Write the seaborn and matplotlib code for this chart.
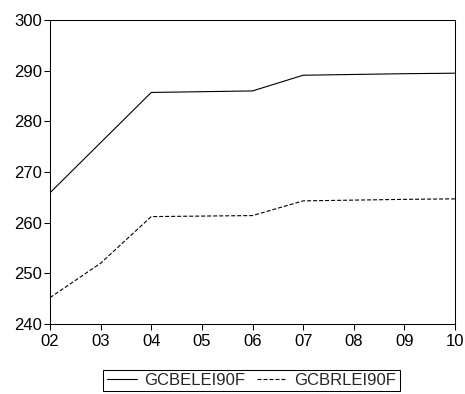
import matplotlib
matplotlib.use("Agg")
import matplotlib.pyplot as plt
import pandas as pd
import seaborn as sns

# Series values by year
years = ["02", "03", "04", "05", "06", "07", "08", "09", "10"]
gcbelei90f = [265.9, 275.8, 285.7, 285.85, 286.0, 289.1, 289.25, 289.4, 289.5]
gcbrlei90f = [245.2, 252.0, 261.2, 261.3, 261.4, 264.3, 264.45, 264.6, 264.7]
series_names = ["GCBELEI90F", "GCBRLEI90F"]
y_ticks = [240, 250, 260, 270, 280, 290, 300]

sns.set_theme(style="ticks")
plt.rcParams["font.family"] = ["Liberation Sans", "DejaVu Sans"]
plt.rcParams["axes.linewidth"] = 0.75
plt.rcParams["axes.edgecolor"] = "black"
plt.rcParams["xtick.color"] = "black"
plt.rcParams["ytick.color"] = "black"

pos = list(range(len(years)))
df = pd.DataFrame({
    "pos": pos * 2,
    "value": gcbelei90f + gcbrlei90f,
    "series": [series_names[0]] * len(years) + [series_names[1]] * len(years),
})

fig = plt.figure(figsize=(4.65, 3.94), dpi=100)
ax = fig.add_axes([50 / 465, 70 / 394, 405 / 465, 304 / 394])

sns.lineplot(
    data=df, x="pos", y="value", hue="series", style="series",
    palette=["black", "black"],
    dashes={series_names[0]: "", series_names[1]: (3.6, 1.8)},
    linewidth=0.8, ax=ax, legend=False,
)

ax.set_xlim(0, len(years) - 1)
ax.set_ylim(y_ticks[0], y_ticks[-1])
ax.set_xticks(pos)
ax.set_xticklabels(years)
ax.set_yticks(y_ticks)
ax.set_xlabel("")
ax.set_ylabel("")
ax.tick_params(axis="both", labelsize=12, length=4, width=0.75,
               direction="out", pad=2)
ax.tick_params(axis="x", pad=3)
for side in ["top", "right", "left", "bottom"]:
    ax.spines[side].set_visible(True)
    ax.spines[side].set_linewidth(0.75)

handles = ax.get_lines()[:2]
leg = fig.legend(
    handles, series_names, loc="center", bbox_to_anchor=(251.5 / 465, 13.5 / 394),
    ncol=2, fontsize=12, frameon=True, fancybox=False, edgecolor="black",
    framealpha=1, handlelength=1.8, handletextpad=0.45, columnspacing=0.7,
    borderpad=0.2, borderaxespad=0,
)
leg.get_frame().set_linewidth(0.75)

fig.savefig("out.png", dpi=100)
